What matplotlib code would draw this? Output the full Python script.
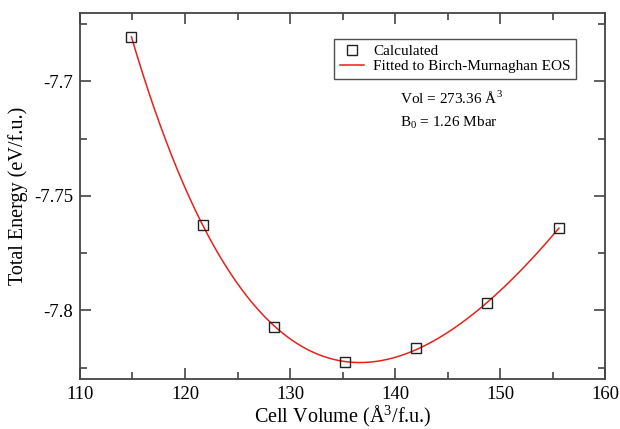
import numpy as np
import matplotlib
matplotlib.use("Agg")
import matplotlib.pyplot as plt
from matplotlib.ticker import MultipleLocator

volume = [114.9, 121.7, 128.5, 135.2, 142.0, 148.8, 155.6]
energy = [-7.6807, -7.7626, -7.8073, -7.8225, -7.8165, -7.797, -7.764]

plt.rcParams['font.family'] = ['Liberation Serif', 'DejaVu Serif']
plt.rcParams['mathtext.fontset'] = 'custom'
plt.rcParams['mathtext.rm'] = 'Liberation Serif'

# Birch-Murnaghan fit: E is cubic in V^(-2/3)
v = np.array(volume)
e = np.array(energy)
xs = v ** (-2.0 / 3.0)
coef = np.polyfit(xs, e, 3)
vfit = np.linspace(v.min(), v.max(), 300)
efit = np.polyval(coef, vfit ** (-2.0 / 3.0))

fig = plt.figure(figsize=(6.2, 4.29), dpi=100)
ax = fig.add_axes([0.129, 0.1166, 0.847, 0.854])

ax.plot(vfit, efit, color='#e8201c', lw=1.1, label='Fitted to Birch-Murnaghan EOS', zorder=2)
ax.plot(volume, energy, ls='none', marker='s', ms=7.5, mfc='none', mec='#222222', mew=1.0,
        label='Calculated', zorder=3)

ax.set_xlim(110, 160)
ax.set_ylim(-7.83, -7.67)
ax.xaxis.set_major_locator(MultipleLocator(10))
ax.xaxis.set_minor_locator(MultipleLocator(5))
ax.yaxis.set_minor_locator(MultipleLocator(0.025))
ax.set_yticks([-7.8, -7.75, -7.7])
ax.set_yticklabels(['-7.8', '-7.75', '-7.7'])
ax.tick_params(which='both', direction='in', top=True, right=True, color='#444444', width=1.2)
ax.tick_params(which='major', length=8, labelsize=13.5, pad=5)
ax.tick_params(which='minor', length=5)
for s in ax.spines.values():
    s.set_color('#444444')
    s.set_linewidth(1.3)

ax.set_xlabel('Cell Volume (Å$^3$/f.u.)', fontsize=14.5, labelpad=0)
ax.set_ylabel('Total Energy (eV/f.u.)', fontsize=14.5, labelpad=4)

handles, labels = ax.get_legend_handles_labels()
leg = ax.legend(handles[::-1], labels[::-1], loc='upper right', bbox_to_anchor=(0.945, 0.928),
                fontsize=11, frameon=True, fancybox=False, edgecolor='#222222',
                handlelength=1.6, borderpad=0.35, labelspacing=0.1, handletextpad=0.6,
                borderaxespad=0)
leg.get_frame().set_linewidth(1.0)

ax.text(0.61, 0.767, 'Vol = 273.36 Å$^3$', transform=ax.transAxes, fontsize=11, va='center')
ax.text(0.61, 0.699, 'B$_0$ = 1.26 Mbar', transform=ax.transAxes, fontsize=11, va='center')

fig.savefig('out.png', dpi=100)
